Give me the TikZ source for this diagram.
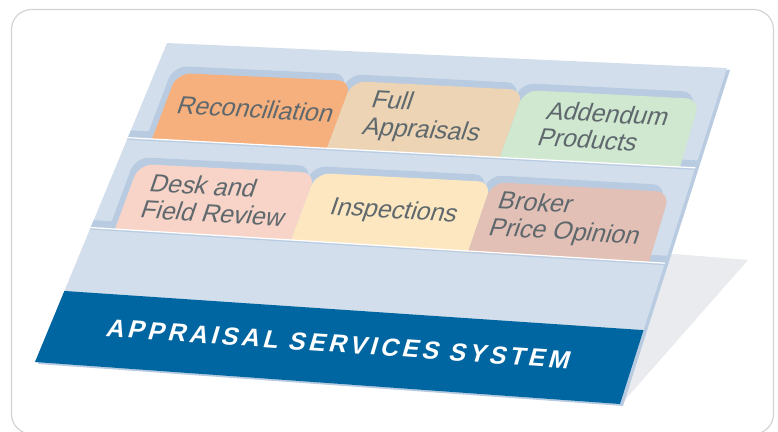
\documentclass[tikz,border=0pt]{standalone}
\usepackage{fontspec}
\setmainfont{Liberation Sans}
\newfontfamily\bandfont[LetterSpace=14]{Liberation Sans}

\definecolor{panel}{HTML}{D2DEEB}
\definecolor{ledge}{HTML}{B8CBE1}
\definecolor{band}{HTML}{0066A1}
\definecolor{shadowgray}{HTML}{E9EBEE}
\definecolor{framegray}{HTML}{D3D3D3}
\definecolor{tabtext}{HTML}{5E686D}
\definecolor{recon}{HTML}{F6B07E}
\definecolor{fullapp}{HTML}{ECD4B4}
\definecolor{addend}{HTML}{D0E7D0}
\definecolor{desk}{HTML}{F7D4C7}
\definecolor{inspect}{HTML}{FDE7C1}
\definecolor{broker}{HTML}{E2C0B6}

\tikzset{
  tablabel/.style={text=tabtext, font=\fontsize{25}{27}\selectfont, align=left,
    inner sep=0pt, rotate=-3.3, xslant=0.28, transform shape},
  bandlabel/.style={text=white, font=\bandfont\bfseries\fontsize{25}{26}\selectfont,
    inner sep=0pt, rotate=-4, xslant=0.22, transform shape}
}

\begin{document}
\begin{tikzpicture}[x=1pt, y=-1pt]
        \useasboundingbox (0,0) rectangle (778,431);
        \draw[framegray, line width=1.2pt, rounded corners=20pt] (11.5,9.5) rectangle (773.5,434);

        \fill[shadowgray] (650,252) -- (748,260) -- (624,401) -- (610,400) -- cycle;

        \fill[ledge] (170,45) -- (730,70) -- (623,406) -- (38,364) -- cycle;
        \fill[panel] (167,43) -- (727,68) -- (620,404) -- (35,362) -- cycle;

        \begin{scope}
        \clip (167,43) -- (727,68) -- (620,404) -- (35,362) -- cycle;

        % upper row
        \fill[ledge] (0,123.4) -- (778,164.7) -- (778,172.2) -- (0,130.9) -- cycle;
        \fill[ledge, shift={(-3.5,-7)}] (152,139) [rounded corners=14pt] -- (177,73) -- (352,81) [sharp corners] -- (327,148) -- cycle;
        \fill[ledge, shift={(-3.5,-7)}] (327,148) [rounded corners=14pt] -- (352,81) -- (524,90) [sharp corners] -- (500,157) -- cycle;
        \fill[ledge, shift={(-3.5,-7)}] (500,157) [rounded corners=14pt] -- (524,90) -- (700,99) [sharp corners] -- (680,167) -- cycle;
        \fill[recon] (152,139) [rounded corners=14pt] -- (177,73) -- (352,81) [sharp corners] -- (327,148) -- cycle;
        \fill[fullapp] (327,148) [rounded corners=14pt] -- (352,81) -- (524,90) [sharp corners] -- (500,157) -- cycle;
        \fill[addend] (500,157) [rounded corners=14pt] -- (524,90) -- (700,99) [sharp corners] -- (680,167) -- cycle;
        \draw[white, line width=1.2pt] (0,130.9) -- (778,172.2);
        \draw[ledge, line width=1pt] (0,132.4) -- (778,173.7);

        % lower row
        \fill[ledge] (0,214.4) -- (778,262.7) -- (778,270.2) -- (0,221.9) -- cycle;
        \fill[ledge, shift={(-3.5,-7)}] (115,229) [rounded corners=14pt] -- (139,164) -- (316,173) [sharp corners] -- (291,240) -- cycle;
        \fill[ledge, shift={(-3.5,-7)}] (291,240) [rounded corners=14pt] -- (316,173) -- (492,182) [sharp corners] -- (468,252) -- cycle;
        \fill[ledge, shift={(-3.5,-7)}] (468,252) [rounded corners=14pt] -- (492,182) -- (670,192) [sharp corners] -- (649,262) -- cycle;
        \fill[desk] (115,229) [rounded corners=14pt] -- (139,164) -- (316,173) [sharp corners] -- (291,240) -- cycle;
        \fill[inspect] (291,240) [rounded corners=14pt] -- (316,173) -- (492,182) [sharp corners] -- (468,252) -- cycle;
        \fill[broker] (468,252) [rounded corners=14pt] -- (492,182) -- (670,192) [sharp corners] -- (649,262) -- cycle;
        \draw[white, line width=1.2pt] (0,221.9) -- (778,270.2);
        \draw[ledge, line width=1pt] (0,223.4) -- (778,271.7);

        \fill[band] (0,286.6) -- (778,339.2) -- (778,431) -- (0,431) -- cycle;
        \end{scope}

        \node[tablabel] (recon) at (256,109) {Reconciliation};
        \node[tablabel] (fullapp) at (426,118) {Full\\Appraisals};
        \node[tablabel] (addend) at (604,127) {Addendum\\Products};
        \node[tablabel] (desk) at (218,200) {Desk and\\Field Review};
        \node[tablabel] (inspect) at (394,212) {Inspections};
        \node[tablabel] (broker) at (569,220) {Broker\\Price Opinion};

        \node[bandlabel] (title) at (339,344) {APPRAISAL SERVICES SYSTEM};
    \end{tikzpicture}
\end{document}
